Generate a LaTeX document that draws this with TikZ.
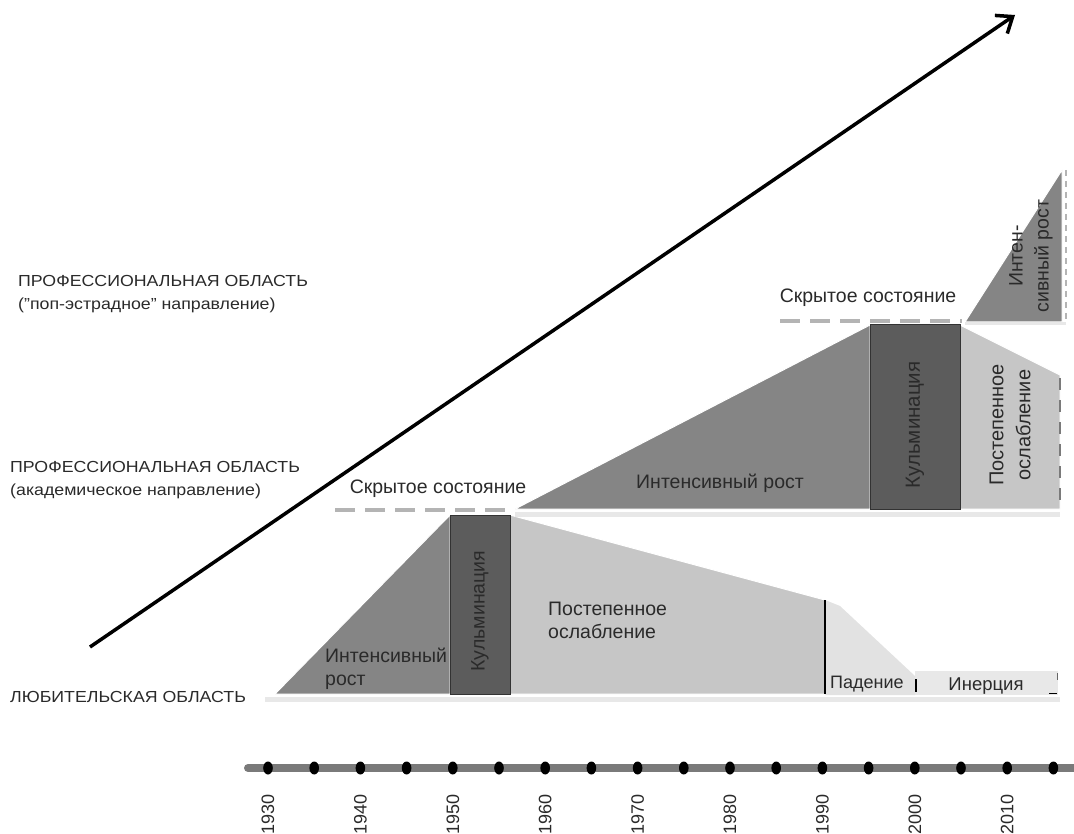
\documentclass[tikz,border=0pt]{standalone}
\usepackage{fontspec}
\setmainfont{Liberation Sans}
\usetikzlibrary{arrows.meta}
\definecolor{gmid}{HTML}{858585}
\definecolor{gdark}{HTML}{5C5C5C}
\definecolor{glight}{HTML}{C6C6C6}
\definecolor{gpale}{HTML}{E2E2E2}
\definecolor{gstrip}{HTML}{E8E8E8}
\definecolor{gdash}{HTML}{B4B4B4}
\definecolor{gtext}{HTML}{2A2A2A}
\definecolor{gaxis}{HTML}{7A7A7A}
\begin{document}
\begin{tikzpicture}[x=1pt,y=-1pt,
  lbl/.style={font=\fontsize{19.5}{22}\selectfont, text=gtext, inner sep=0pt},
  side/.style={font=\fontsize{16}{23}\selectfont, text=gtext, inner sep=0pt, anchor=west, align=left, xscale=1.11},
  yr/.style={font=\fontsize{18}{20}\selectfont, text=gtext, inner sep=0pt, rotate=90, anchor=east},
  growth/.style={fill=gmid, draw=white, line width=1pt},
  culm/.style={fill=gdark, draw=black!80, line width=1pt},
  decline/.style={fill=glight, draw=white, line width=1pt},
  strip/.style={gstrip, line width=5pt},
  latent/.style={gdash, line width=4pt, dash pattern=on 20pt off 10pt}
]
\useasboundingbox (0,0) rectangle (1074,834);

% ---------- amateur field ----------
\draw[strip] (265,699) -- (1060,699);
\fill[gstrip] (915,671) rectangle (1058,695);
\fill[gpale] (825,600) -- (840,606) -- (915,676) -- (915,695) -- (825,695) -- cycle;
\draw[growth] (275,694) -- (450,515) -- (450,694) -- cycle;
\draw[decline] (510,515) -- (825,600) -- (825,694) -- (510,694) -- cycle;
\draw[culm] (450,515) rectangle (510,694);
\draw[black, line width=1.5pt] (825,600) -- (825,694);
\draw[black, line width=1.2pt] (916,679) -- (916,692);
\draw[black, line width=1pt] (1049,693) -- (1057,693);
\draw[black!60, line width=1pt] (1057,673) -- (1057,680);

\node[lbl, align=left, anchor=north west] (a1) at (325,648) {Интенсивный\\[1pt]рост};
\node[lbl, rotate=90] (a2) at (480,611) {Кульминация};
\node[lbl, align=left, anchor=north west] (a3) at (548,602) {Постепенное\\[1pt]ослабление};
\node[lbl, anchor=west, font=\fontsize{18}{20}\selectfont] (a4) at (830,684) {Падение};
\node[lbl, font=\fontsize{18.5}{20}\selectfont] (a5) at (986,686) {Инерция};

% ---------- academic field ----------
\draw[strip] (515,514) -- (1060,514);
\draw[latent] (335,510) -- (515,510);
\draw[growth] (515,509) -- (870,325) -- (870,509) -- cycle;
\draw[decline] (960,325) -- (1060,375) -- (1060,509) -- (960,509) -- cycle;
\draw[culm] (870,325) rectangle (960,509);
\draw[gaxis, line width=2pt, dash pattern=on 12pt off 10pt] (1060,378) -- (1060,508);

\node[lbl] (b0) at (438,489) {Скрытое состояние};
\node[lbl] (b1) at (720,483) {Интенсивный рост};
\node[lbl, rotate=90, font=\fontsize{20.5}{22}\selectfont] (b2) at (915,425) {Кульминация};
\node[lbl, rotate=90, align=center, font=\fontsize{20}{27}\selectfont] (b3) at (1010,425) {Постепенное\\ослабление};

% ---------- pop field ----------
\draw[latent] (780,321) -- (962,321);
\draw[growth] (965,322) -- (1062,170) -- (1062,322) -- cycle;
\draw[gdash, line width=2pt, dash pattern=on 6pt off 5pt] (1066,170) -- (1066,322);
\draw[gstrip, line width=3pt] (965,324) -- (1066,324);

\node[lbl] (c0) at (868,298) {Скрытое состояние};
\node[lbl, rotate=90, align=center, font=\fontsize{19.5}{26}\selectfont] (c1) at (1031,256) {Интен-\\сивный рост};

% ---------- side labels ----------
\node[side] (s1) at (18,294) {ПРОФЕССИОНАЛЬНАЯ ОБЛАСТЬ\\("поп-эстрадное" направление)};
\node[side] (s2) at (10,480) {ПРОФЕССИОНАЛЬНАЯ ОБЛАСТЬ\\(академическое направление)};
\node[side] (s3) at (10,697) {ЛЮБИТЕЛЬСКАЯ ОБЛАСТЬ};

% ---------- big arrow ----------
\coordinate (arrS) at (90,647);
\coordinate (arrE) at (1015,15);
\draw[black, line width=3.5pt, -{Straight Barb[length=14pt,width=22pt,line width=3.5pt]}] (arrS) -- (arrE);

% ---------- time axis ----------
\coordinate (axS) at (248,768);
\coordinate (axE) at (1074,768);
\draw[gaxis, line width=8pt, line cap=round] (axS) -- (axE);
\foreach \i in {0,...,17}{
  \fill[black] (268+\i*46.2,768) ellipse (4.8pt and 6.5pt);
}
\foreach \y [count=\k from 0] in {1930,1940,1950,1960,1970,1980,1990,2000,2010}{
  \node[yr] (y\k) at (268+\k*92.4,794) {\y};
}
\end{tikzpicture}
\end{document}
